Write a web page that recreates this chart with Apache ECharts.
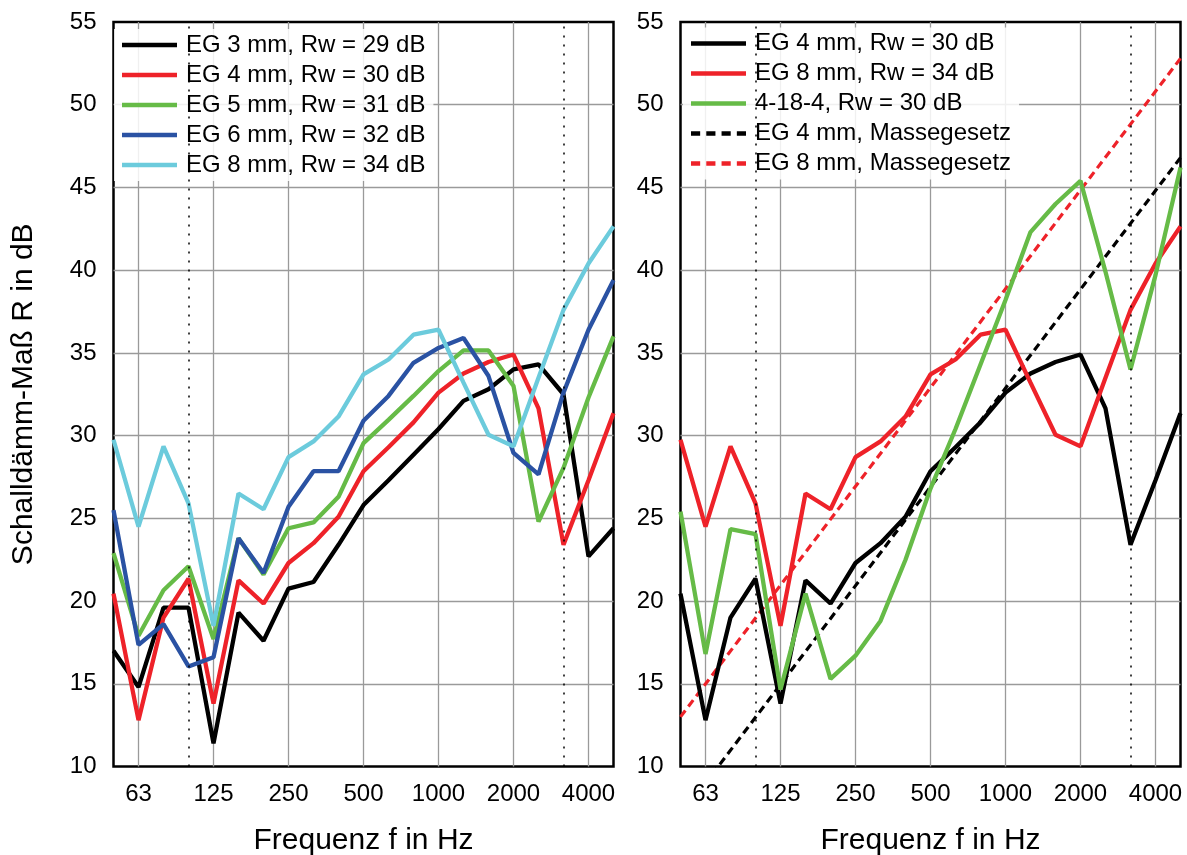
<!DOCTYPE html>
<html>
<head>
<meta charset="utf-8">
<script src="https://cdn.jsdelivr.net/npm/echarts@6/dist/echarts.min.js"></script>
<style>
  html, body { margin: 0; padding: 0; background: #ffffff; }
  #page { position: relative; width: 1187px; height: 855px; overflow: hidden; background: #ffffff; }
  #single { position: absolute; left: 0; top: 0; width: 640px; height: 855px; }
  #compare { position: absolute; left: 620px; top: 0; width: 567px; height: 855px; }
</style>
</head>
<body>
<div id="page">
  <div id="single"></div>
  <div id="compare"></div>
</div>
<script>
// Third-octave band centre frequencies (Hz)
const bands = ['50', '63', '80', '100', '125', '160', '200', '250', '315', '400', '500',
               '630', '800', '1000', '1250', '1600', '2000', '2500', '3150', '4000', '5000'];
// Octave bands that get a label and a grid line
const labeledBands = ['63', '125', '250', '500', '1000', '2000', '4000'];
// Limits of the building-acoustics range (dotted lines)
const rangeBands = ['100', '3150'];

// Sound reduction index R in dB, single glazing (EG) of different thickness
const eg3mm = [17.0, 14.8, 19.6, 19.6, 11.4, 19.3, 17.6, 20.75, 21.15, 23.4, 25.8,
               27.3, 28.85, 30.4, 32.1, 32.8, 34.0, 34.3, 32.5, 22.7, 24.4];
const eg4mm = [20.45, 12.8, 19.0, 21.35, 13.8, 21.25, 19.85, 22.3, 23.5, 25.1, 27.85,
               29.3, 30.8, 32.6, 33.75, 34.45, 34.9, 31.65, 23.4, 27.3, 31.35];
const eg5mm = [22.9, 17.9, 20.65, 22.1, 17.7, 23.8, 21.6, 24.4, 24.75, 26.3, 29.55,
               30.95, 32.4, 33.9, 35.15, 35.15, 33.0, 24.8, 28.05, 32.3, 36.0];
const eg6mm = [25.5, 17.35, 18.6, 16.05, 16.6, 23.8, 21.7, 25.7, 27.85, 27.85, 30.9,
               32.4, 34.4, 35.3, 35.9, 33.6, 28.95, 27.65, 32.6, 36.4, 39.4];
const eg8mm = [29.75, 24.5, 29.35, 25.9, 18.5, 26.5, 25.55, 28.7, 29.65, 31.15, 33.7,
               34.6, 36.1, 36.4, 33.2, 30.05, 29.35, 33.5, 37.6, 40.4, 42.65];
// Insulating glass unit 4-18-4
const igu4184 = [25.4, 16.8, 24.35, 24.05, 14.65, 20.45, 15.3, 16.7, 18.8, 22.5, 26.8,
                 30.4, 34.3, 38.2, 42.3, 44.0, 45.4, 39.9, 34.0, 39.7, 46.2];
// Mass law lines (values at 50 Hz and 5000 Hz)
const massLaw4mm = [7.0, 46.8];
const massLaw8mm = [13.0, 52.8];

const singleNames = ['EG 3 mm, Rw = 29 dB', 'EG 4 mm, Rw = 30 dB', 'EG 5 mm, Rw = 31 dB',
                     'EG 6 mm, Rw = 32 dB', 'EG 8 mm, Rw = 34 dB'];
const compareNames = ['EG 4 mm, Rw = 30 dB', 'EG 8 mm, Rw = 34 dB', '4-18-4, Rw = 30 dB',
                      'EG 4 mm, Massegesetz', 'EG 8 mm, Massegesetz'];

const FONT = '"Liberation Sans", Arial, sans-serif';
const C = {
  black: '#000000', red: '#ee2229', green: '#66bb47', blue: '#2a52a3', cyan: '#6ccbdc',
  grid: '#9a9a9a'
};
// Legend symbols: a solid bar and a four-dash bar
const SOLID_ICON = 'rect';
const DASH_ICON = 'path://M0,0H9V2H0Z M15,0H24V2H15Z M30,0H39V2H30Z M45,0H54V2H45Z';

const pickOctave = (idx, val) => labeledBands.indexOf(val) >= 0;

function xAxis() {
  return {
    type: 'category', data: bands, boundaryGap: false,
    name: 'Frequenz f in Hz', nameLocation: 'middle', nameGap: 59,
    nameTextStyle: { fontFamily: FONT, fontSize: 30, color: '#000' },
    axisLine: { show: false }, axisTick: { show: false },
    axisLabel: { interval: pickOctave, margin: 16, fontFamily: FONT, fontSize: 24, color: '#000' },
    splitLine: { show: true, interval: pickOctave, lineStyle: { color: C.grid, width: 1.3 } }
  };
}
function yAxis(name) {
  return {
    type: 'value', min: 10, max: 55, interval: 5,
    name: name, nameLocation: 'middle', nameGap: 75,
    nameTextStyle: { fontFamily: FONT, fontSize: 30, color: '#000' },
    axisLine: { show: false }, axisTick: { show: false },
    axisLabel: { margin: 17, fontFamily: FONT, fontSize: 24, color: '#000' },
    splitLine: { show: true, showMinLine: false, showMaxLine: false,
                 lineStyle: { color: C.grid, width: 1.3 } }
  };
}
function curve(name, values, color, extra) {
  return Object.assign({
    type: 'line', name, data: values, symbol: 'none', smooth: false,
    lineStyle: { color, width: 4.3 }, itemStyle: { color },
    emphasis: { disabled: true }, animation: false
  }, extra || {});
}
function massLine(name, ends, color) {
  return curve(name, [[bands[0], ends[0]], [bands[bands.length - 1], ends[1]]], color,
    { lineStyle: { color, width: 3.2, type: [8, 5] } });
}
const rangeMarks = {
  silent: true, symbol: 'none', label: { show: false },
  lineStyle: { color: '#000', width: 1.5, type: [2, 7] },
  data: rangeBands.map(b => ({ xAxis: b }))
};
function legend(left, top, items) {
  return {
    orient: 'vertical', left, top, padding: [4, 8, 4, 8],
    backgroundColor: 'rgba(255,255,255,0.85)',
    icon: SOLID_ICON, symbolKeepAspect: false,
    itemWidth: 55, itemHeight: 4.5, itemGap: 6, selectedMode: false,
    itemStyle: { borderWidth: 0 },
    textStyle: { fontFamily: FONT, fontSize: 24, lineHeight: 24, color: '#000', padding: [0, 0, 0, 4] },
    data: items
  };
}
function frame(gridLeft) {
  return { left: gridLeft, top: 22, width: 500, height: 744.5,
           outerBoundsMode: 'none', containLabel: false,
           show: true, borderColor: '#000', borderWidth: 2.5 };
}

// Single glazing of different thickness
const single = echarts.init(document.getElementById('single'), null, { renderer: 'canvas' });
single.setOption({
  backgroundColor: 'transparent',
  animation: false,
  grid: frame(113.5),
  xAxis: xAxis(),
  yAxis: yAxis('Schalldämm-Maß R in dB'),
  legend: legend(114, 29, singleNames),
  series: [
    curve(singleNames[0], eg3mm, C.black, { markLine: rangeMarks }),
    curve(singleNames[1], eg4mm, C.red),
    curve(singleNames[2], eg5mm, C.green),
    curve(singleNames[3], eg6mm, C.blue),
    curve(singleNames[4], eg8mm, C.cyan)
  ]
});

// Single glazing vs. insulating glass and mass law
const compare = echarts.init(document.getElementById('compare'), null, { renderer: 'canvas' });
compare.setOption({
  backgroundColor: 'transparent',
  animation: false,
  grid: frame(60.5),
  xAxis: xAxis(),
  yAxis: yAxis(''),
  legend: legend(63, 27.5, [
    compareNames[0], compareNames[1], compareNames[2],
    { name: compareNames[3], icon: DASH_ICON },
    { name: compareNames[4], icon: DASH_ICON }
  ]),
  series: [
    massLine(compareNames[3], massLaw4mm, C.black),
    massLine(compareNames[4], massLaw8mm, C.red),
    curve(compareNames[0], eg4mm, C.black, { markLine: rangeMarks }),
    curve(compareNames[1], eg8mm, C.red),
    curve(compareNames[2], igu4184, C.green)
  ]
});
</script>
</body>
</html>
